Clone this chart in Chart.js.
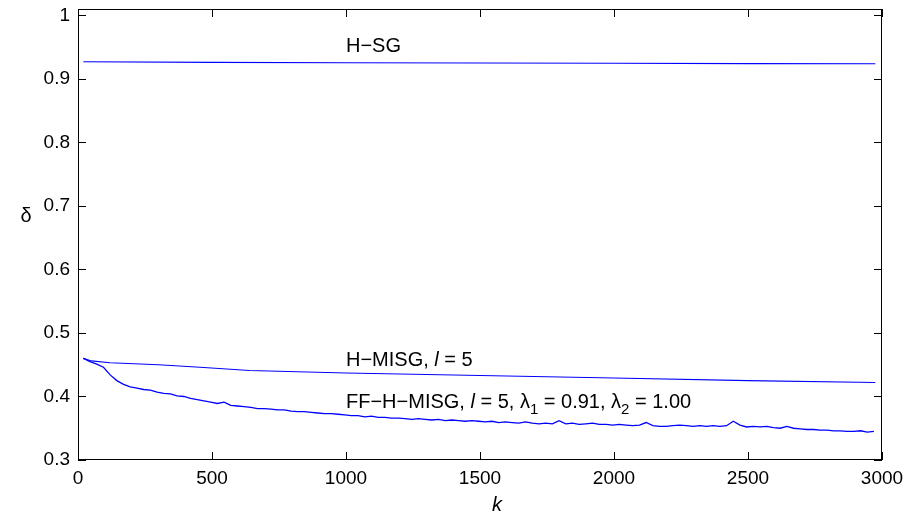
<!DOCTYPE html>
<html>
<head>
<meta charset="utf-8">
<script src="https://cdn.jsdelivr.net/npm/chart.js@4.4.1/dist/chart.umd.min.js"></script>
<style>
html,body{margin:0;padding:0;background:#fff;}
#wrap{width:917px;height:517px;}
</style>
</head>
<body>
<div id="wrap"><canvas id="c" width="917" height="517"></canvas></div>
<script>
// ---- data ----
const xTicks = [0, 500, 1000, 1500, 2000, 2500, 3000];
const yTicks = [0.3, 0.4, 0.5, 0.6, 0.7, 0.8, 0.9, 1.0];

const hsgK = [20, 500, 1000, 1500, 2000, 2500, 2975];
const hsgVal = [0.927, 0.926, 0.9255, 0.925, 0.9245, 0.924, 0.9238];

const hmisgK = [20, 50, 120, 300, 455, 640, 1000, 1500, 2000, 2500, 2975];
const hmisgVal = [0.460, 0.456, 0.453, 0.450, 0.446, 0.441, 0.437, 0.433, 0.429, 0.425, 0.422];

const ffK = [
  20,45,70,95,120,145,170,195,220,245,
  270,295,320,345,370,395,420,445,470,495,
  520,545,570,595,620,645,670,695,720,745,
  770,795,820,845,870,895,920,945,970,995,
  1020,1045,1070,1095,1120,1145,1170,1195,1220,1245,
  1270,1295,1320,1345,1370,1395,1420,1445,1470,1495,
  1520,1545,1570,1595,1620,1645,1670,1695,1720,1745,
  1770,1795,1820,1845,1870,1895,1920,1945,1970,1995,
  2020,2045,2070,2095,2120,2145,2170,2195,2220,2245,
  2270,2295,2320,2345,2370,2395,2420,2445,2470,2495,
  2520,2545,2570,2595,2620,2645,2670,2695,2720,2745,
  2770,2795,2820,2845,2870,2895,2920,2945,2970
];
const ffVal = [
  0.460,0.455,0.451,0.446,0.434,0.425,0.419,0.415,0.413,0.411,
  0.410,0.407,0.405,0.404,0.401,0.400,0.397,0.395,0.393,0.391,
  0.389,0.391,0.386,0.385,0.384,0.383,0.381,0.381,0.380,0.379,
  0.379,0.377,0.376,0.376,0.375,0.374,0.373,0.373,0.372,0.371,
  0.370,0.370,0.368,0.369,0.367,0.367,0.366,0.366,0.365,0.364,
  0.365,0.364,0.363,0.364,0.362,0.363,0.362,0.361,0.362,0.361,
  0.360,0.361,0.359,0.360,0.359,0.358,0.360,0.358,0.357,0.358,
  0.357,0.362,0.357,0.358,0.356,0.357,0.358,0.356,0.356,0.355,
  0.356,0.355,0.354,0.355,0.359,0.354,0.353,0.353,0.354,0.355,
  0.354,0.353,0.354,0.353,0.354,0.353,0.354,0.361,0.355,0.352,
  0.353,0.352,0.353,0.351,0.350,0.353,0.350,0.349,0.348,0.348,
  0.347,0.347,0.346,0.346,0.345,0.345,0.346,0.344,0.345
];

function pts(ks, vs){ return ks.map((k,i)=>({x:k, y:vs[i]})); }

const FONT = '"Liberation Sans", Arial, sans-serif';
const BLUE = '#0000ff';

// annotation text, placed in data coordinates
const labels = [
  {x: 1000, y: 0.951, parts: [{t:'H\u2212SG'}]},
  {x: 1000, y: 0.457, parts: [{t:'H\u2212MISG, '},{t:'l',it:true},{t:' = 5'}]},
  {x: 1000, y: 0.391, parts: [{t:'FF\u2212H\u2212MISG, '},{t:'l',it:true},{t:' = 5, \u03bb'},{t:'1',sub:true},{t:' = 0.91, \u03bb'},{t:'2',sub:true},{t:' = 1.00'}]}
];

const decor = {
  id: 'decor',
  afterDatasetsDraw(chart){
    const {ctx, chartArea:a, scales:{x, y}} = chart;
    ctx.save();
    // box
    ctx.strokeStyle = '#000';
    ctx.lineWidth = 1;
    ctx.strokeRect(a.left+0.5, a.top+0.5, a.right-a.left-1, a.bottom-a.top-1);
    // inward ticks
    const TL = 8;
    ctx.beginPath();
    xTicks.forEach(v=>{
      const px = Math.round(x.getPixelForValue(v))+0.5;
      ctx.moveTo(px, a.bottom); ctx.lineTo(px, a.bottom-TL);
      ctx.moveTo(px, a.top); ctx.lineTo(px, a.top+TL);
    });
    yTicks.forEach(v=>{
      const py = Math.round(y.getPixelForValue(v))+0.5;
      ctx.moveTo(a.left, py); ctx.lineTo(a.left+TL, py);
      ctx.moveTo(a.right, py); ctx.lineTo(a.right-TL, py);
    });
    ctx.stroke();
    // annotations
    ctx.fillStyle = '#000';
    ctx.textBaseline = 'middle';
    ctx.textAlign = 'left';
    labels.forEach(l=>{
      let px = x.getPixelForValue(l.x);
      const py = y.getPixelForValue(l.y);
      l.parts.forEach(p=>{
        if (p.sub){
          ctx.font = '15px ' + FONT;
          ctx.fillText(p.t, px, py+8);
        } else {
          ctx.font = (p.it ? 'italic ' : '') + '20px ' + FONT;
          ctx.fillText(p.t, px, py);
        }
        px += ctx.measureText(p.t).width;
      });
    });
    // axis titles
    ctx.font = '20px ' + FONT;
    ctx.textAlign = 'center';
    ctx.fillText('\u03b4', 26, 216);
    ctx.font = 'italic 20px ' + FONT;
    ctx.fillText('k', 497, 505);
    ctx.restore();
  }
};

new Chart(document.getElementById('c'), {
  type: 'line',
  data: {
    datasets: [
      {label:'H-SG', data: pts(hsgK, hsgVal), borderColor: BLUE, borderWidth: 1.1},
      {label:'H-MISG', data: pts(hmisgK, hmisgVal), borderColor: BLUE, borderWidth: 1.1},
      {label:'FF-H-MISG', data: pts(ffK, ffVal), borderColor: BLUE, borderWidth: 1.3}
    ]
  },
  options: {
    responsive: false,
    animation: false,
    devicePixelRatio: 1,
    elements: { point: { radius: 0 }, line: { tension: 0, fill: false } },
    layout: { padding: { top: 9, right: 35, left: 0, bottom: 0 } },
    plugins: { legend: { display: false }, tooltip: { enabled: false } },
    scales: {
      x: {
        type: 'linear', min: 0, max: 3000,
        grid: { display: false, drawTicks: false },
        border: { display: false },
        afterBuildTicks: s => { s.ticks = xTicks.map(v=>({value:v})); },
        afterFit: s => { s.height = 57; s.paddingLeft = 0; s.paddingRight = 0; },
        ticks: { padding: 7, color: '#000', font: { family: FONT, size: 19 }, maxRotation: 0, callback: v => String(v) }
      },
      y: {
        type: 'linear', min: 0.3, max: 1.01,
        grid: { display: false, drawTicks: false },
        border: { display: false },
        afterBuildTicks: s => { s.ticks = yTicks.map(v=>({value:v})); },
        afterFit: s => { s.width = 78; s.paddingTop = 0; s.paddingBottom = 0; },
        ticks: { padding: 8, color: '#000', font: { family: FONT, size: 19 }, callback: v => String(+v.toFixed(1)) }
      }
    }
  },
  plugins: [decor]
});
</script>
</body>
</html>
